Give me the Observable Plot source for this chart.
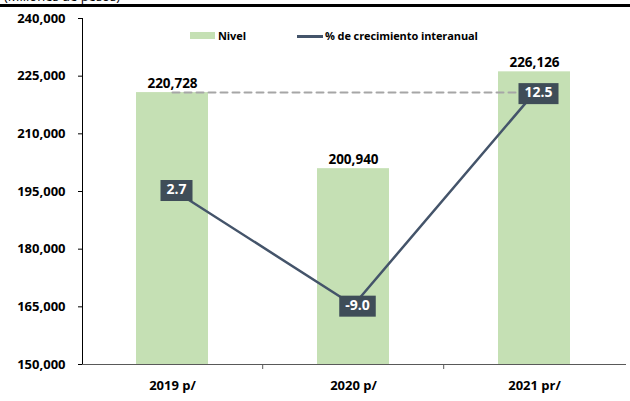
<!DOCTYPE html>
<html>
<head>
<meta charset="utf-8">
<script src="https://cdn.jsdelivr.net/npm/d3@7"></script>
<script src="https://cdn.jsdelivr.net/npm/@observablehq/plot@0.6"></script>
<style>
  body { margin: 0; background: #fff; font-family: "Open Sans", sans-serif; }
  #wrap { position: relative; width: 630px; height: 401px; overflow: hidden; }
  #title { position: absolute; left: 4px; top: -13px; font-size: 13px; color: #000; white-space: nowrap; }
  #topline { position: absolute; left: 0; top: 4px; width: 630px; height: 3px; background: #000; }
  .leg { position: absolute; font-size: 11px; font-weight: 700; color: #000; line-height: 14px; white-space: nowrap; letter-spacing: -0.1px; }
  .sw-bar { position: absolute; left: 190px; top: 32px; width: 25px; height: 7px; background: #c5e0b4; }
  .sw-line { position: absolute; left: 297px; top: 35px; width: 26px; height: 3px; background: #44546a; }
  #chart { position: absolute; left: 0; top: 0; }
</style>
</head>
<body>
<div id="wrap">
  <div id="chart"></div>
  <div id="title">(Millones de pesos)</div>
  <div id="topline"></div>
  <div class="sw-bar"></div>
  <div class="leg" id="leg0" style="left:218px; top:29px;"></div>
  <div class="sw-line"></div>
  <div class="leg" id="leg1" style="left:325px; top:29px;"></div>
</div>
<script>
const years = ["2019 p/", "2020 p/", "2021 pr/"];
const nivel = [220728, 200940, 226126];
const crecimiento = [2.7, -9.0, 12.5];
const yTicks = [150000, 165000, 180000, 195000, 210000, 225000, 240000];
const yDomain = [150000, 240000];
const pctDomain = [-15, 20];
const seriesNames = ["Nivel", "% de crecimiento interanual"];

document.getElementById("leg0").textContent = seriesNames[0];
document.getElementById("leg1").textContent = seriesNames[1];

const toLevel = d3.scaleLinear().domain(pctDomain).range(yDomain);
const rows = years.map((y, i) => ({year: y, nivel: nivel[i], pct: crecimiento[i], pctY: toLevel(crecimiento[i])}));
const refLine = [rows[0], rows[rows.length - 1]].map(d => ({year: d.year, v: nivel[0]}));

const padInner = 0.6;
const bandTicks = (index, scales, values, dims) => {
  const x = scales.x;
  const g = d3.create("svg:g");
  const yb = dims.height - dims.marginBottom;
  for (let i = 1; i < years.length; i++) {
    const a = x(years[i - 1]), b = x(years[i]);
    const step = b - a;
    const xb = b - padInner * step / 2;
    g.append("line").attr("x1", xb).attr("x2", xb).attr("y1", yb).attr("y2", yb + 5)
      .attr("stroke", "#595959").attr("stroke-width", 1);
  }
  return g.node();
};

const chart = Plot.plot({
  width: 630,
  height: 401,
  marginTop: 18,
  marginBottom: 37,
  marginLeft: 82,
  marginRight: 5,
  style: {fontFamily: "Open Sans, sans-serif", fontWeight: 700, color: "#000", background: "transparent", overflow: "visible"},
  x: {domain: years, paddingInner: padInner, paddingOuter: 0.3, label: null},
  y: {domain: yDomain, label: null},
  marks: [
    Plot.barY(rows, {x: "year", y1: () => yDomain[0], y2: "nivel", fill: "#c5e0b4"}),
    Plot.frame({anchor: "left", stroke: "#000"}),
    Plot.frame({anchor: "bottom", stroke: "#595959"}),
    Plot.axisY(yTicks, {tickFormat: d3.format(","), tickSize: 4, tickPadding: 13, fontSize: 13, fontWeight: 700, label: null, stroke: "#000"}),
    Plot.axisX({tickSize: 0, tickPadding: 16, fontSize: 13, fontWeight: 700, label: null}),
    bandTicks,
    Plot.line(refLine, {x: "year", y: "v", stroke: "#a6a6a6", strokeWidth: 2, strokeDasharray: "7,5"}),
    Plot.text(rows, {x: "year", y: "nivel", text: d => d3.format(",")(d.nivel), dy: -9, fontSize: 13.5, fontWeight: 700, fill: "#000"}),
    Plot.line(rows, {x: "year", y: "pctY", stroke: "#44546a", strokeWidth: 2.5}),
    Plot.text(rows, {x: "year", y: "pctY", text: d => d.pct.toFixed(1), dx: 4, fill: "#fff", fontSize: 14, fontWeight: 700, className: "pctlbl"})
  ]
});
document.getElementById("chart").appendChild(chart);

// dark boxes behind percentage labels
chart.querySelectorAll(".pctlbl text").forEach(t => {
  const bb = t.getBBox();
  const r = document.createElementNS("http://www.w3.org/2000/svg", "rect");
  r.setAttribute("x", bb.x - 6);
  r.setAttribute("y", bb.y + 1);
  r.setAttribute("width", bb.width + 12);
  r.setAttribute("height", bb.height + 2);
  r.setAttribute("fill", "#3f4d58");
  const tr = t.getAttribute("transform");
  if (tr) r.setAttribute("transform", tr);
  t.parentNode.insertBefore(r, t);
});
</script>
</body>
</html>
